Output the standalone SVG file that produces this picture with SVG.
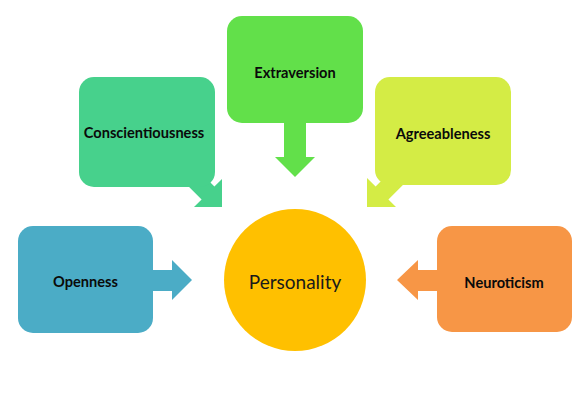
<svg xmlns="http://www.w3.org/2000/svg" width="585" height="400" viewBox="0 0 585 400">
<style>
.lbl{font-family:Lato,"Liberation Sans",sans-serif;font-weight:bold;font-size:14.6px;fill:#0a0a0a;text-anchor:middle}
.ctr{font-family:Lato,"Liberation Sans",sans-serif;font-size:19px;fill:#1a1a1a;text-anchor:middle}
</style>
<rect width="585" height="400" fill="#fff"/>
<g id="connectors">
<polygon fill="#4bacc6" points="150,270 172,270 172,260 192,280 172,300 172,291 150,291"/>
<polygon fill="#47d18c" points="180.6,178.4 193.4,165.6 214.4,186.6 222,179 222,207 194,207 201.6,199.4"/>
<polygon fill="#62e04a" points="284,120 306,120 306,157 315,157 295,177 275,157 284,157"/>
<polygon fill="#d4ec45" points="409.4,178.4 396.6,165.6 375.6,186.6 367,178 367,207 396,207 388.4,199.4"/>
<polygon fill="#f79646" points="440,270 418,270 418,260 397,280 418,300 418,291 440,291"/>
</g>
<g id="openness"><rect x="18" y="226" width="135" height="107" rx="15" fill="#4bacc6"/><text class="lbl" x="85.5" y="287">Openness</text></g>
<g id="conscientiousness"><rect x="79" y="77" width="136" height="110" rx="15" fill="#47d18c"/><text class="lbl" x="144" y="138">Conscientiousness</text></g>
<g id="extraversion"><rect x="227" y="16" width="136" height="107" rx="15" fill="#62e04a"/><text class="lbl" x="295" y="78">Extraversion</text></g>
<g id="agreeableness"><rect x="375" y="77" width="136" height="108" rx="15" fill="#d4ec45"/><text class="lbl" x="443" y="139">Agreeableness</text></g>
<g id="neuroticism"><rect x="437" y="226" width="135" height="106" rx="15" fill="#f79646"/><text class="lbl" x="504" y="288">Neuroticism</text></g>
<g id="personality"><circle cx="295" cy="280" r="71" fill="#ffc000"/><text class="ctr" x="295" y="289">Personality</text></g>
</svg>
